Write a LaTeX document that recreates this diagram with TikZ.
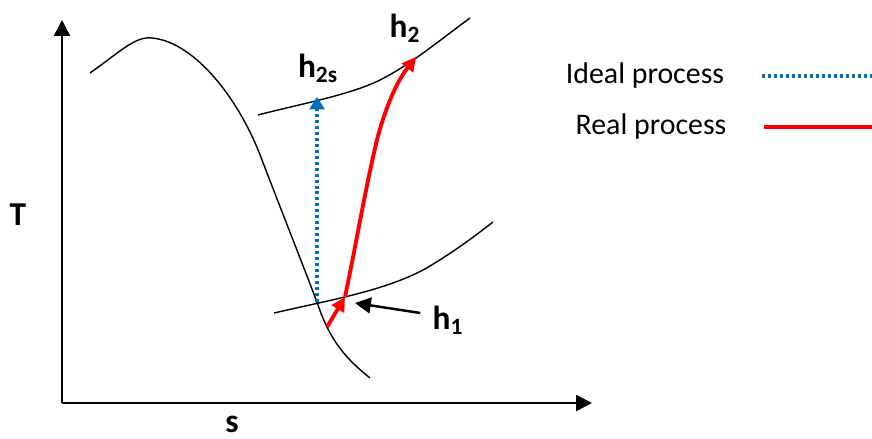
\documentclass[tikz,border=0pt]{standalone}
\usepackage{fontspec}
\setmainfont{Carlito}
\usepackage{xcolor}
\usetikzlibrary{arrows.meta,positioning}
\definecolor{idealblue}{RGB}{0,112,192}
\definecolor{realred}{RGB}{255,0,0}
\tikzset{
  axisline/.style={line width=1.4pt,-{Triangle[width=9pt,length=9pt]}},
  isoline/.style={line width=0.8pt},
  ideal/.style={idealblue,line width=1.8pt,dash pattern=on 1.7pt off 1.7pt},
  real/.style={realred,line width=2.2pt},
  lbl/.style={font=\fontsize{19}{21}\selectfont\bfseries,inner sep=0pt},
  legend/.style={font=\fontsize{17}{20}\selectfont,inner sep=0pt}
}
\begin{document}
\begin{tikzpicture}[x=0.02cm,y=-0.02cm]
\useasboundingbox (0,0) rectangle (872,439);
\coordinate (O) at (62,403);
\coordinate (ytip) at (62,20);
\coordinate (xtip) at (592,403);
\draw[axisline] (O) -- (ytip);
\draw[axisline] (O) -- (xtip);
\node[lbl] (T) at (18,215) {T};
\node[lbl] (s) at (232,424) {s};
% saturation dome
\draw[isoline] (90,73) .. controls (120,52) and (135,36) .. (152,38)
  .. controls (195,42) and (240,100) .. (262,160)
  .. controls (285,220) and (305,270) .. (318,305)
  .. controls (330,340) and (345,358) .. (370,378);
% isobars
\draw[isoline] (258,115) .. controls (300,104) and (350,95) .. (380,80)
  .. controls (410,65) and (440,40) .. (470,18);
\draw[isoline] (274,313) .. controls (330,300) and (390,290) .. (430,266)
  .. controls (455,251) and (475,236) .. (493,222);
\coordinate (p1s) at (317,302);
\coordinate (p2s) at (317,97);
\coordinate (p0) at (327,327);
\coordinate (p1) at (345,297);
\coordinate (p2) at (416,57);
\draw[ideal,-{Triangle[width=9pt,length=7pt,line width=0pt]}] (p1s) -- (p2s);
\draw[real,-{Triangle[width=8pt,length=8pt]}] (p0) -- (p1);
\draw[real,-{Triangle[width=8pt,length=8pt]}] (p1) .. controls (355,250) and (366,185) .. (377,140)
  .. controls (386,105) and (398,80) .. (p2);
\node[lbl] (h1) at (448,320) {h\textsubscript{1}};
\draw[line width=1.4pt,-{Triangle[width=9pt,length=9pt]}] (h1.west) ++(-12,-7) coordinate (h1a) -- (355,303);
\node[lbl] (h2s) at (318,68) {h\textsubscript{2s}};
\node[lbl] (h2) at (405,28) {h\textsubscript{2}};
% legend
\node[legend] (idealtxt) at (645,76) {Ideal process};
\node[legend] (realtxt) at (651,127) {Real process};
\coordinate (ia) at (762,76);
\coordinate (ib) at (872,76);
\coordinate (ra) at (764,127);
\coordinate (rb) at (872,127);
\draw[ideal] (ia) -- (ib);
\draw[real] (ra) -- (rb);
\end{tikzpicture}
\end{document}
